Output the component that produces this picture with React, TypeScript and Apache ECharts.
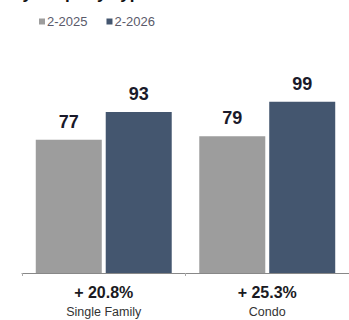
import React, { useEffect, useRef } from "react";
import * as echarts from "echarts";

const categories = ["Single Family", "Condo"];
const changes = ["+ 20.8%", "+ 25.3%"];
const seriesNames = ["2-2025", "2-2026"];
const values2025 = [77, 79];
const values2026 = [93, 99];
const colors = ["#9d9d9d", "#44566f"];

export default function App() {
  const ref = useRef<HTMLDivElement>(null);
  useEffect(() => {
    if (!ref.current) return;
    const chart = echarts.init(ref.current, undefined, { renderer: "svg" });
    const font = "'Liberation Sans', Arial, sans-serif";
    const valueLabel = {
      show: true,
      position: "top",
      distance: 9,
      fontSize: 18,
      fontWeight: "bold",
      color: "#1a1a2a",
      fontFamily: font,
    };
    chart.setOption({
      animation: false,
      textStyle: { fontFamily: font },
      graphic: [
        {
          type: "text",
          left: 12,
          top: -15,
          style: { text: "by Property Type", font: `bold 17px ${font}`, fill: "#111" },
        },
      ],
      legend: {
        left: 34,
        top: 10,
        itemWidth: 6,
        itemHeight: 6,
        itemGap: 19,
        icon: "rect",
        textStyle: { fontSize: 13, color: "#5a5a6a", fontFamily: font, padding: [0, 0, 0, -3] },
        data: seriesNames,
      },
      grid: { left: 22, right: 0, top: 100, bottom: 47 },
      xAxis: {
        type: "category",
        data: categories,
        axisLine: { lineStyle: { color: "#888", width: 1 } },
        axisTick: { show: true, length: 3, lineStyle: { color: "#aaa" } },
        axisLabel: {
          margin: 9,
          interval: 0,
          formatter: (v: string, i: number) => `{p|${changes[i]}}\n{c|${v}}`,
          rich: {
            p: { fontSize: 16, fontWeight: "bold", color: "#1a1a22", fontFamily: font, lineHeight: 21 },
            c: { fontSize: 12.5, color: "#333", fontFamily: font, lineHeight: 18 },
          },
        },
      },
      yAxis: { type: "value", min: 0, max: 100, show: false, splitLine: { show: false } },
      series: [
        {
          name: seriesNames[0],
          type: "bar",
          data: values2025,
          barWidth: 66,
          barGap: "6%",
          itemStyle: { color: colors[0] },
          label: valueLabel,
        },
        {
          name: seriesNames[1],
          type: "bar",
          data: values2026,
          barWidth: 66,
          barGap: "6%",
          itemStyle: { color: colors[1] },
          label: valueLabel,
        },
      ],
    });
    return () => chart.dispose();
  }, []);
  return <div ref={ref} style={{ width: 349, height: 320, position: "absolute", left: 0, top: 0 }} />;
}
